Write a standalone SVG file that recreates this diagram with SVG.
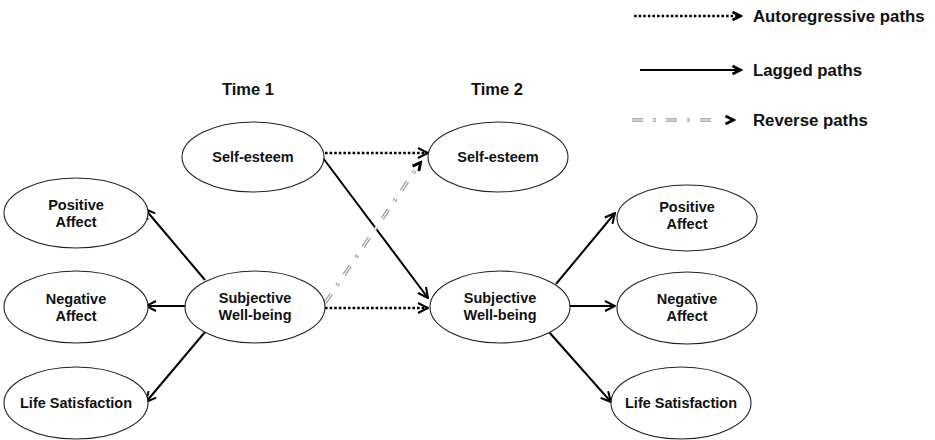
<svg xmlns="http://www.w3.org/2000/svg" width="935" height="440" viewBox="0 0 935 440">
  <style>
    .node ellipse { fill: #fff; stroke: #222; stroke-width: 1.1; }
    text { font-family: "Liberation Sans", Arial, sans-serif; font-weight: bold; fill: #111; }
    .lbl { font-size: 14.5px; text-anchor: middle; }
    .title { font-size: 16.5px; text-anchor: middle; }
    .leg { font-size: 16.8px; }
    .solid { stroke: #000; stroke-width: 2; fill: none; }
    .dotted { stroke: #000; stroke-width: 2.6; stroke-dasharray: 2.6 2; fill: none; }
    .rev-outer { stroke: #9a9a9a; stroke-width: 3.6; stroke-dasharray: 11 10 3 10; fill: none; }
    .rev-inner { stroke: #fff; stroke-width: 1.2; stroke-dasharray: 11 10 3 10; fill: none; }
  </style>
  <defs>
    <marker id="head" viewBox="0 0 12 12" refX="11" refY="6" markerWidth="12" markerHeight="12" orient="auto" markerUnits="userSpaceOnUse">
      <path d="M1,1 L11,6 L1,11" fill="none" stroke="#000" stroke-width="2"/>
    </marker>
    <marker id="headBold" viewBox="0 0 12 12" refX="10.5" refY="6" markerWidth="12" markerHeight="12" orient="auto" markerUnits="userSpaceOnUse">
      <path d="M2,2 L10,6 L2,10" fill="none" stroke="#000" stroke-width="2.8"/>
    </marker>
  </defs>

  <!-- legend -->
  <g id="legend">
    <line class="dotted" x1="634" y1="16" x2="741" y2="16" marker-end="url(#headBold)"/>
    <text class="leg" x="753" y="22">Autoregressive paths</text>
    <line class="solid" x1="640" y1="70" x2="741" y2="70" marker-end="url(#headBold)"/>
    <text class="leg" x="753" y="76">Lagged paths</text>
    <line class="rev-outer" x1="632" y1="120" x2="720" y2="120"/>
    <line class="rev-inner" x1="632" y1="120" x2="720" y2="120"/>
    <line x1="728" y1="120" x2="734" y2="120" stroke="none" marker-end="url(#headBold)"/>
    <text class="leg" x="753" y="126">Reverse paths</text>
  </g>

  <!-- column titles -->
  <text class="title" x="248" y="95">Time 1</text>
  <text class="title" x="497" y="95">Time 2</text>

  <!-- connectors -->
  <g id="connectors">
    <!-- measurement paths, time 1 -->
    <line class="solid" x1="205" y1="280" x2="145" y2="209" marker-end="url(#head)"/>
    <line class="solid" x1="185" y1="306" x2="146" y2="306" marker-end="url(#head)"/>
    <line class="solid" x1="205" y1="332" x2="146" y2="402" marker-end="url(#head)"/>
    <!-- measurement paths, time 2 -->
    <line class="solid" x1="556" y1="284" x2="615" y2="213" marker-end="url(#head)"/>
    <line class="solid" x1="570" y1="306" x2="615" y2="306" marker-end="url(#head)"/>
    <line class="solid" x1="549" y1="332" x2="611" y2="402" marker-end="url(#head)"/>
    <!-- autoregressive -->
    <line class="dotted" x1="325" y1="153" x2="428" y2="153" marker-end="url(#head)"/>
    <line class="dotted" x1="325" y1="308" x2="428" y2="308" marker-end="url(#head)"/>
    <!-- lagged -->
    <line class="solid" x1="323" y1="158" x2="428" y2="298" marker-end="url(#head)"/>
    <!-- reverse -->
    <line class="rev-outer" x1="325" y1="303" x2="416" y2="169"/>
    <line class="rev-inner" x1="325" y1="303" x2="416" y2="169"/>
    <line x1="417" y1="167" x2="421" y2="162" stroke="none" marker-end="url(#headBold)"/>
  </g>

  <!-- time 1 -->
  <g id="se1" class="node">
    <ellipse cx="253" cy="157" rx="71" ry="35"/>
    <text class="lbl" x="253" y="162">Self-esteem</text>
  </g>
  <g id="swb1" class="node">
    <ellipse cx="255" cy="307" rx="70" ry="36"/>
    <text class="lbl" x="255" y="303">Subjective</text>
    <text class="lbl" x="255" y="320">Well-being</text>
  </g>
  <g id="pa1" class="node">
    <ellipse cx="76" cy="213" rx="72" ry="35"/>
    <text class="lbl" x="76" y="210">Positive</text>
    <text class="lbl" x="76" y="227">Affect</text>
  </g>
  <g id="na1" class="node">
    <ellipse cx="76" cy="307" rx="72" ry="36"/>
    <text class="lbl" x="76" y="304">Negative</text>
    <text class="lbl" x="76" y="321">Affect</text>
  </g>
  <g id="ls1" class="node">
    <ellipse cx="76" cy="403" rx="72" ry="36"/>
    <text class="lbl" x="76" y="408">Life Satisfaction</text>
  </g>

  <!-- time 2 -->
  <g id="se2" class="node">
    <ellipse cx="498" cy="157" rx="70" ry="35"/>
    <text class="lbl" x="498" y="162">Self-esteem</text>
  </g>
  <g id="swb2" class="node">
    <ellipse cx="500" cy="307" rx="70" ry="36"/>
    <text class="lbl" x="500" y="303">Subjective</text>
    <text class="lbl" x="500" y="320">Well-being</text>
  </g>
  <g id="pa2" class="node">
    <ellipse cx="687" cy="218" rx="70" ry="33"/>
    <text class="lbl" x="687" y="212">Positive</text>
    <text class="lbl" x="687" y="229">Affect</text>
  </g>
  <g id="na2" class="node">
    <ellipse cx="687" cy="308" rx="70" ry="36"/>
    <text class="lbl" x="687" y="304">Negative</text>
    <text class="lbl" x="687" y="321">Affect</text>
  </g>
  <g id="ls2" class="node">
    <ellipse cx="681" cy="403" rx="70" ry="36"/>
    <text class="lbl" x="681" y="408">Life Satisfaction</text>
  </g>
</svg>
